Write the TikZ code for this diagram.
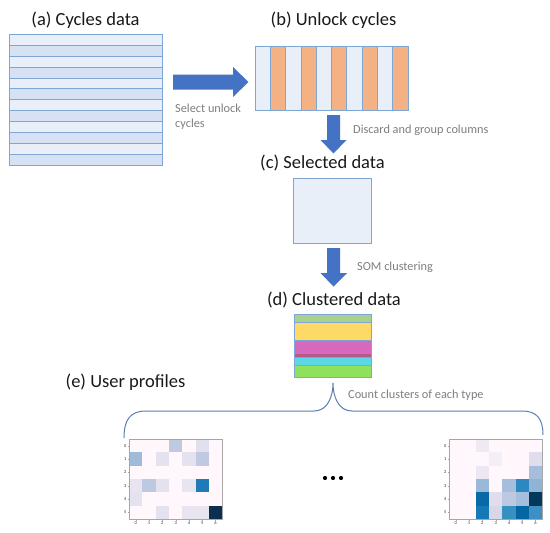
\documentclass[tikz,border=0pt]{standalone}
\usepackage{fontspec}
\setmainfont{Carlito}
\definecolor{boxline}{HTML}{7FA7D6}
\definecolor{lightrow}{HTML}{E9EFF8}
\definecolor{darkrow}{HTML}{D6E2F3}
\definecolor{orangecol}{HTML}{F4B183}
\definecolor{arrowblue}{HTML}{4472C4}
\definecolor{txtgray}{HTML}{7F7F7F}
\definecolor{bracecol}{HTML}{5E7FAE}
\definecolor{cgreenA}{HTML}{A9D18E}
\definecolor{cyellow}{HTML}{FFD966}
\definecolor{cmagenta}{HTML}{D569BE}
\definecolor{cmagdark}{HTML}{B45A8C}
\definecolor{ccyan}{HTML}{5CD7E4}
\definecolor{cgreenB}{HTML}{8FE05A}
\definecolor{hbg}{HTML}{FFF7FB}
\definecolor{hA}{HTML}{BFCAE1}
\definecolor{hB}{HTML}{E2E0EE}
\definecolor{hC}{HTML}{9EBCDA}
\definecolor{hD}{HTML}{E5E2EF}
\definecolor{hE}{HTML}{E8E5F1}
\definecolor{hF}{HTML}{BCC9E1}
\definecolor{hG}{HTML}{1F7BB6}
\definecolor{hH}{HTML}{0A2F4F}
\definecolor{rA}{HTML}{EEE9F3}
\definecolor{rB}{HTML}{F4EFF7}
\definecolor{rC}{HTML}{E0DDED}
\definecolor{rD}{HTML}{ECE7F2}
\definecolor{rE}{HTML}{A6BDDB}
\definecolor{rF}{HTML}{9AB8D8}
\definecolor{rG}{HTML}{2C88C0}
\definecolor{rH}{HTML}{8FB4D6}
\definecolor{rI}{HTML}{0A68A8}
\definecolor{rJ}{HTML}{BCC9E1}
\definecolor{rK}{HTML}{023858}
\definecolor{rL}{HTML}{1479B5}
\definecolor{rM}{HTML}{D8D7E9}
\definecolor{rN}{HTML}{3690C0}
\definecolor{rO}{HTML}{0567A2}
\definecolor{rP}{HTML}{3D8FC4}
\newcommand{\myheatmap}[3]{%
  \begin{scope}[shift={(#1,#2)}]
    \fill[hbg] (0,0) rectangle (93.3,80);
    \foreach \c/\r/\col in {#3} {
      \fill[\col] ({\c*93.3/7},{\r*80/6}) rectangle +({93.3/7},{80/6});
    }
    \draw[gray!70,line width=0.4pt] (0,0) rectangle (93.3,80);
    \foreach \r in {0,...,5} {
      \node[ticklbl,anchor=east] at (-2,{(\r+0.5)*80/6}) {\r};
      \draw[gray!70,line width=0.3pt] (-1.5,{(\r+0.5)*80/6}) -- (0,{(\r+0.5)*80/6});
    }
    \foreach \c in {0,...,6} {
      \node[ticklbl,anchor=north] at ({(\c+0.5)*93.3/7},82) {\c};
      \draw[gray!70,line width=0.3pt] ({(\c+0.5)*93.3/7},80) -- ({(\c+0.5)*93.3/7},81.5);
    }
  \end{scope}}
\begin{document}
\begin{tikzpicture}[x=1pt,y=-1pt,
  title/.style={font=\fontsize{18.5}{20}\selectfont, text=black!90, inner sep=0},
  note/.style={font=\fontsize{12.3}{14}\selectfont, text=txtgray, inner sep=0, anchor=west, align=left},
  ticklbl/.style={font=\fontsize{4.5}{5}\selectfont, text=black!80, inner sep=0.5pt},
  blockarrow/.style={fill=arrowblue, draw=none},
  databox/.style={draw=boxline, line width=0.8pt, inner sep=0}]
\useasboundingbox (0,0) rectangle (550,533);
\fill[white] (0,0) rectangle (550,533);

% (a) Cycles data
\node[title] (ta) at (85.5,20) {(a) Cycles data};
\foreach \i in {0,2,...,10} {
  \fill[lightrow] (9,{34.5+\i*10.875}) rectangle (162,{34.5+(\i+1)*10.875});
}
\foreach \i in {1,3,...,11} {
  \fill[darkrow] (9,{34.5+\i*10.875}) rectangle (162,{34.5+(\i+1)*10.875});
}
\foreach \i in {1,...,11} {
  \draw[boxline, line width=0.8pt] (9,{34.5+\i*10.875}) -- (162,{34.5+\i*10.875});
}
\node[databox, minimum width=153pt, minimum height=130.5pt] (a) at (85.5,99.75) {};

% arrow a -> b
\fill[blockarrow] (173,74.5) -- (233,74.5) -- (233,67) -- (248.5,82) -- (233,97) -- (233,89.5) -- (173,89.5) -- cycle;
\node[note] (na) at (175,108) {Select unlock};
\node[note] (na2) at (175,124) {cycles};

% (b) Unlock cycles
\node[title] (tb) at (333.5,20) {(b) Unlock cycles};
\foreach \i in {0,2,...,8} {
  \fill[lightrow] ({255+\i*15.3},46.5) rectangle ({255+(\i+1)*15.3},110);
}
\foreach \i in {1,3,...,9} {
  \fill[orangecol] ({255+\i*15.3},46.5) rectangle ({255+(\i+1)*15.3},110);
}
\foreach \i in {1,...,9} {
  \draw[boxline, line width=0.8pt] ({255+\i*15.3},46.5) -- ({255+\i*15.3},110);
}
\node[databox, minimum width=153pt, minimum height=63.5pt] (b) at (331.5,78.25) {};

% arrow b -> c
\fill[blockarrow] (327,115) -- (340,115) -- (340,140) -- (346.5,140) -- (333.5,153.5) -- (320.5,140) -- (327,140) -- cycle;
\node[note] (nb) at (353,130) {Discard and group columns};

% (c) Selected data
\node[title] (tc) at (322.5,163) {(c) Selected data};
\node[databox, fill=lightrow, minimum width=78pt, minimum height=65pt] (c) at (332,210.5) {};

% arrow c -> d
\fill[blockarrow] (327,248) -- (340,248) -- (340,273) -- (347,273) -- (333.5,286.5) -- (320.5,273) -- (327,273) -- cycle;
\node[note] (nc) at (357,267) {SOM clustering};

% (d) Clustered data
\node[title] (td) at (334,300) {(d) Clustered data};
\fill[cgreenA] (294,314) rectangle (371,322);
\fill[cyellow] (294,322) rectangle (371,340);
\fill[cmagenta] (294,340) rectangle (371,354);
\fill[cmagdark] (294,354) rectangle (371,357);
\fill[ccyan] (294,357) rectangle (371,365);
\fill[cgreenB] (294,365) rectangle (371,377.5);
\foreach \yy in {322,340,357,365} {
  \draw[boxline, line width=0.6pt] (294,\yy) -- (371,\yy);
}
\node[databox, minimum width=77pt, minimum height=63.5pt] (d) at (332.5,345.75) {};

% brace
\coordinate (btip) at (333,383);
\coordinate (bl) at (124,438);
\coordinate (br) at (543,435);
\draw[bracecol, line width=1pt] (bl) .. controls (124,420) and (130,411) .. (146,411) -- (314,411) .. controls (328,411) and (333,396) .. (btip) .. controls (333,396) and (338,411) .. (352,411) -- (522,411) .. controls (537,411) and (543,419) .. (br);
\node[note] (nd) at (348,395) {Count clusters of each type};

% (e) User profiles
\node[title] (te) at (125.5,382) {(e) User profiles};

\myheatmap{129}{439}{3/0/hA, 5/0/hB, 0/1/hC, 2/1/hD, 4/1/hD, 5/1/hA, 0/3/hE, 1/3/hF, 2/3/hD, 4/3/hE, 5/3/hG, 0/4/hD, 2/5/hD, 4/5/hE, 5/5/hE, 6/5/hH}
\myheatmap{449}{439}{2/0/rA, 3/1/rB, 6/1/rC, 2/2/rD, 6/2/rE, 2/3/rF, 4/3/rE, 5/3/rG, 6/3/rH, 2/4/rI, 3/4/rC, 4/4/rJ, 5/4/rE, 6/4/rK, 2/5/rL, 3/5/rM, 4/5/rN, 5/5/rO, 6/5/rP}

% ellipsis
\foreach \xx in {325,333,341} {
  \fill[black] (\xx,478) circle (2.1);
}
\end{tikzpicture}
\end{document}
